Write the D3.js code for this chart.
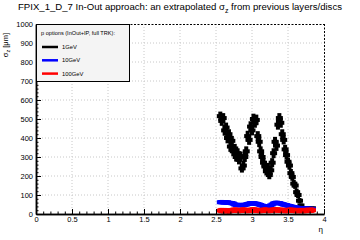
<!DOCTYPE html>
<html>
<head>
<meta charset="utf-8">
<script src="https://cdn.jsdelivr.net/npm/d3@7"></script>
<style>
  body { margin: 0; background: #fff; }
  svg { font-family: "Liberation Sans", Arial, sans-serif; }
</style>
</head>
<body>
<div id="chart"></div>
<script>
// eta bin centres
const eta = [2.56, 2.58, 2.60, 2.62, 2.64, 2.66, 2.68, 2.70, 2.72, 2.74,
  2.76, 2.78, 2.80, 2.82, 2.84, 2.86, 2.88, 2.90, 2.92, 2.94,
  2.96, 2.98, 3.00, 3.02, 3.04, 3.06, 3.08, 3.10, 3.12, 3.14,
  3.16, 3.18, 3.20, 3.22, 3.24, 3.26, 3.28, 3.30, 3.32, 3.34,
  3.36, 3.38, 3.40, 3.42, 3.44, 3.46, 3.48, 3.50, 3.52, 3.54,
  3.56, 3.58, 3.60, 3.62, 3.64, 3.66, 3.68, 3.70, 3.72, 3.74,
  3.76, 3.78, 3.80, 3.82, 3.84];

const sigma1 = [515, 490, 505, 440, 455, 400, 420, 355, 385, 330,
  345, 300, 320, 285, 305, 240, 255, 300, 330, 410,
  390, 460, 440, 500, 480, 495, 410, 380, 330, 300,
  270, 250, 225, 245, 205, 230, 270, 320, 380, 360,
  470, 505, 480, 420, 390, 340, 310, 275, 255, 215,
  195, 160, 150, 115, 100, 70, 45, 30, 30, 29,
  29, 28, 28, 29, 30];
const err1 = [24, 26, 26, 28, 26, 28, 26, 28, 26, 26,
  24, 24, 26, 24, 24, 22, 24, 26, 26, 28,
  26, 28, 26, 28, 26, 28, 26, 28, 26, 24,
  24, 24, 22, 24, 22, 24, 24, 26, 26, 28,
  26, 26, 26, 26, 24, 24, 24, 22, 22, 22,
  20, 20, 18, 18, 16, 14, 10, 4, 3, 3,
  3, 3, 3, 3, 3];

const sigma10 = [62, 63, 61, 62, 60, 61, 59, 58, 57, 55,
  50, 48, 47, 46, 48, 47, 46, 48, 50, 52,
  55, 56, 57, 56, 55, 54, 52, 50, 47, 44,
  42, 40, 39, 40, 42, 45, 50, 55, 58, 59,
  58, 57, 55, 52, 50, 48, 46, 44, 42, 40,
  38, 36, 34, 33, 32, 31, 30, 29, 29, 28,
  28, 27, 27, 27, 26];
const err10 = 11;

const sigma100 = [18, 18, 17, 18, 17, 17, 16, 17, 19, 20,
  21, 20, 19, 18, 19, 20, 21, 20, 19, 18,
  19, 20, 21, 22, 21, 20, 19, 18, 18, 19,
  20, 21, 20, 19, 18, 19, 20, 21, 22, 22,
  21, 20, 20, 19, 19, 18, 18, 19, 20, 20,
  19, 19, 18, 18, 18, 18, 18, 18, 18, 18,
  19, 19, 19, 20, 20];
const err100 = 14;

const xTicks = [0, 0.5, 1, 1.5, 2, 2.5, 3, 3.5, 4];
const yTicks = [0, 100, 200, 300, 400, 500, 600, 700, 800, 900, 1000];
const legendNames = ["1GeV", "10GeV", "100GeV"];
const colors = ["#000000", "#0000ff", "#ff0000"];

const w = 360, h = 240;
const padL = 36, padR = 324, padT = 24, padB = 214;

const svg = d3.select("#chart").append("svg")
  .attr("width", w).attr("height", h);

const x = d3.scaleLinear().domain([0, 4]).range([padL, padR]);
const y = d3.scaleLinear().domain([0, 1000]).range([padB, padT]);

// grid
svg.append("g").selectAll("line").data(xTicks.slice(1, -1)).enter().append("line")
  .attr("x1", d => x(d)).attr("x2", d => x(d))
  .attr("y1", padT).attr("y2", padB)
  .attr("stroke", "#c8c8c8").attr("stroke-dasharray", "1,2");
svg.append("g").selectAll("line").data(yTicks.slice(1, -1)).enter().append("line")
  .attr("x1", padL).attr("x2", padR)
  .attr("y1", d => y(d)).attr("y2", d => y(d))
  .attr("stroke", "#c8c8c8").attr("stroke-dasharray", "1,2");

// frame top / right dashed
svg.append("line").attr("x1", padL).attr("x2", padR).attr("y1", padT + 0.5).attr("y2", padT + 0.5)
  .attr("stroke", "#000").attr("stroke-dasharray", "2,1.5");
svg.append("line").attr("x1", padR + 0.5).attr("x2", padR + 0.5).attr("y1", padT).attr("y2", padB)
  .attr("stroke", "#000").attr("stroke-dasharray", "2,1.5");

// data
function drawSeries(vals, errs, color) {
  const g = svg.append("g");
  const pts = eta.map((e, i) => ({ e: e, v: vals[i], err: Array.isArray(errs) ? errs[i] : errs }));
  g.selectAll("rect.bar").data(pts).enter().append("rect")
    .attr("x", d => x(d.e) - 2)
    .attr("y", d => y(d.v + d.err))
    .attr("width", 4)
    .attr("height", d => Math.min(y(Math.max(d.v - d.err, 0)), padB) - y(d.v + d.err))
    .attr("fill", color);
  g.selectAll("rect.mk").data(pts).enter().append("rect")
    .attr("x", d => x(d.e) - 3.5)
    .attr("y", d => y(d.v) - 2)
    .attr("width", 7)
    .attr("height", 4)
    .attr("fill", color);
}
drawSeries(sigma1, err1, colors[0]);
drawSeries(sigma10, err10, colors[1]);
drawSeries(sigma100, err100, colors[2]);

// axes
const fmt = d => d === 0 ? "0" : String(d);
const xAxis = d3.axisBottom(x).tickValues(xTicks).tickSize(-5).tickSizeOuter(0).tickPadding(3).tickFormat(fmt);
const xMinor = d3.axisBottom(x).tickValues(d3.range(0, 41).map(i => i / 10)).tickSize(-2.5).tickSizeOuter(0).tickFormat("");
const yAxis = d3.axisLeft(y).tickValues(yTicks).tickSize(-5).tickSizeOuter(0).tickPadding(3).tickFormat(fmt);
const yMinor = d3.axisLeft(y).tickValues(d3.range(0, 51).map(i => i * 20)).tickSize(-2.5).tickSizeOuter(0).tickFormat("");

svg.append("g").attr("transform", `translate(0,${padB})`).call(xMinor);
const gx = svg.append("g").attr("transform", `translate(0,${padB})`).call(xAxis);
svg.append("g").attr("transform", `translate(${padL},0)`).call(yMinor);
const gy = svg.append("g").attr("transform", `translate(${padL},0)`).call(yAxis);
svg.selectAll(".domain").attr("stroke-width", 1.5);
gx.selectAll("text").attr("font-size", 7.5).attr("font-family", "Liberation Sans, Arial, sans-serif");
gy.selectAll("text").attr("font-size", 7.5).attr("font-family", "Liberation Sans, Arial, sans-serif");

// legend
const lg = svg.append("g");
lg.append("rect").attr("x", padL + 0.5).attr("y", padT + 0.5).attr("width", 93).attr("height", 57)
  .attr("fill", "#f4f4f4").attr("stroke", "#000");
lg.append("text").attr("x", 41).attr("y", 35).attr("font-size", 5.6).text("p options (InOut+IP, full TRK):");
legendNames.forEach((n, i) => {
  const ly = 47 + i * 13.3;
  lg.append("line").attr("x1", 42).attr("x2", 58).attr("y1", ly).attr("y2", ly)
    .attr("stroke", colors[i]).attr("stroke-width", 2.5);
  lg.append("text").attr("x", 62).attr("y", ly + 2).attr("font-size", 5.8).text(n);
});

// titles
const t = svg.append("text").attr("x", 180).attr("y", 10).attr("text-anchor", "middle")
  .attr("font-size", 9.6).attr("fill", "#000");
t.append("tspan").text("FPIX_1_D_7 In-Out approach: an extrapolated σ");
t.append("tspan").attr("font-size", 7).attr("dy", 3).text("z");
t.append("tspan").attr("dy", -3).text(" from previous layers/discs");

const yl = svg.append("text").attr("transform", "translate(8,33) rotate(-90)")
  .attr("text-anchor", "end").attr("font-size", 7.5);
yl.append("tspan").text("σ");
yl.append("tspan").attr("font-size", 5.5).attr("dy", 2).text("z");
yl.append("tspan").attr("dy", -2).text(" [μm]");

svg.append("text").attr("x", 323).attr("y", 232).attr("text-anchor", "end")
  .attr("font-size", 8).text("η");
</script>
</body>
</html>
